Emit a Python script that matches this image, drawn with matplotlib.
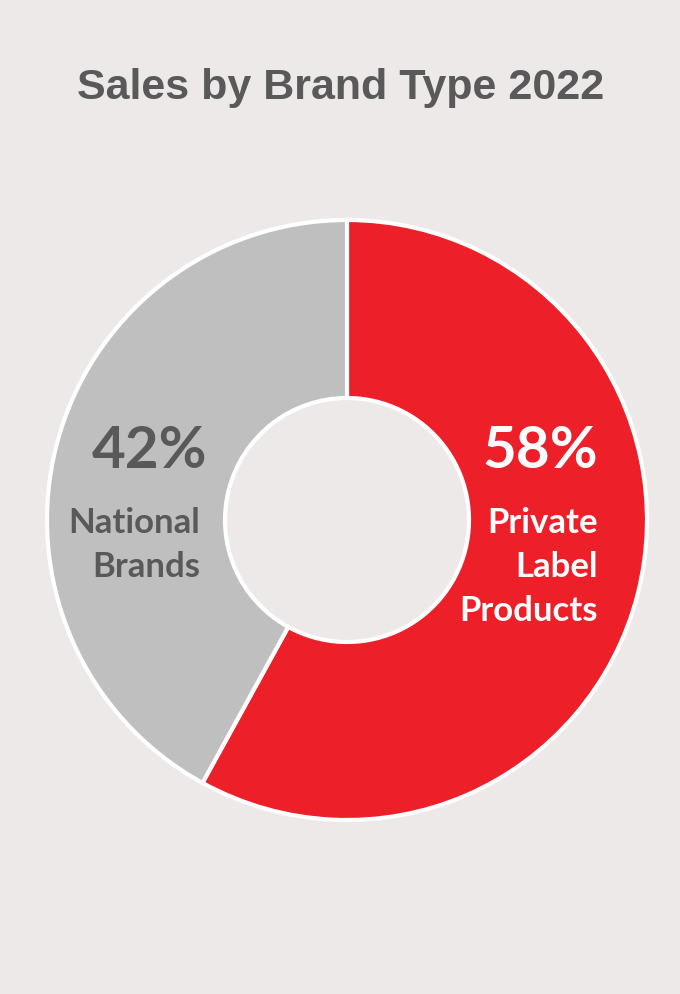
import matplotlib.pyplot as plt

# share of sales by brand type
brand_types = ["Private Label Products", "National Brands"]
shares = [58, 42]
colors = ["#ED1F28", "#BFBFBF"]
text_colors = ["white", "#595959"]

bg = "#EDE9E8"

fig = plt.figure(figsize=(6.8, 9.94), dpi=100)
fig.patch.set_facecolor(bg)
ax = fig.add_axes([0, 0, 1, 1])

# donut
ax.pie(shares, colors=colors, startangle=90, counterclock=False,
       center=(347, 474), radius=300, frame=True,
       wedgeprops=dict(width=178, edgecolor="white", linewidth=3))
ax.set_xlim(0, 680)
ax.set_ylim(0, 994)
ax.set_aspect("equal")
ax.axis("off")

ax.text(341, 994 - 99, "Sales by Brand Type 2022", ha="center", va="baseline",
        fontsize=31, fontweight="bold", color="#595959", family="Liberation Sans")

# percentage + name labels, right aligned inside each ring segment
pct_x = [598, 207]
name_x = [598, 200]
for i, (name, pct) in enumerate(zip(brand_types, shares)):
    ax.text(pct_x[i], 994 - 468, "%d%%" % pct, ha="right", va="baseline",
            fontsize=42, fontweight="bold", color=text_colors[i], family="Lato")
    for j, w in enumerate(name.split(" ")):
        ax.text(name_x[i], 994 - (533 + 44 * j), w, ha="right", va="baseline",
                fontsize=25, fontweight="bold", color=text_colors[i], family="Lato")

fig.savefig("out.png", dpi=100, facecolor=bg)
